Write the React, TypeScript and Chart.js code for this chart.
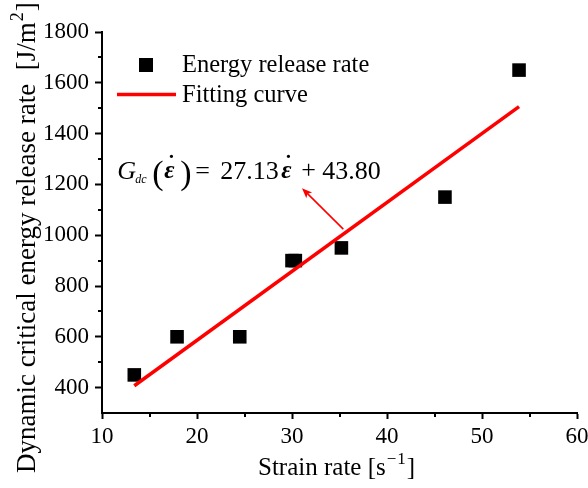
import React, { useEffect, useRef } from "react";
import { Chart, registerables } from "chart.js";

Chart.register(...registerables);

// ---- data ----
const strainRate = [13.4, 17.9, 24.5, 30.0, 30.35, 35.2, 46.1, 53.9];
const energyRelease = [450, 600, 600, 900, 900, 950, 1150, 1650];
const fitStrain = [13.4, 53.9];
const fitEnergy = [407.3, 1506.1];
const xTickValues = [10, 20, 30, 40, 50, 60];
const yTickValues = [400, 600, 800, 1000, 1200, 1400, 1600, 1800];
const xMinorTicks = [15, 25, 35, 45, 55];
const yMinorTicks = [500, 700, 900, 1100, 1300, 1500, 1700];
const legendLabels = ["Energy release rate", "Fitting curve"];
const xTitle = "Strain rate [s";
const yTitle = "Dynamic critical energy release rate  [J/m";
const eqCoef = "27.13";
const eqConst = "43.80";
const eqAnchor = { x: 11.6, y: 1220 };
const arrowFrom = { x: 35.4, y: 1024 };
const arrowTo = { x: 31.05, y: 1185 };

const FONT = "'Liberation Serif', 'Times New Roman', serif";
const RED = "#ff0000";

const overlayPlugin = {
  id: "overlay",
  afterDraw(chart: any) {
    const ctx = chart.ctx as CanvasRenderingContext2D;
    const xs = chart.scales.x;
    const ys = chart.scales.y;
    const area = chart.chartArea;
    ctx.save();
    // minor ticks
    ctx.strokeStyle = "#000";
    ctx.lineWidth = 2;
    ctx.beginPath();
    xMinorTicks.forEach((v) => {
      const px = Math.round(xs.getPixelForValue(v));
      ctx.moveTo(px, area.bottom);
      ctx.lineTo(px, area.bottom + 4);
    });
    yMinorTicks.forEach((v) => {
      const py = Math.round(ys.getPixelForValue(v));
      ctx.moveTo(area.left, py);
      ctx.lineTo(area.left - 4, py);
    });
    ctx.stroke();

    // legend
    const lx = area.left;
    ctx.fillStyle = "#000";
    ctx.fillRect(lx + 37, 58, 14, 14);
    ctx.font = `24.5px ${FONT}`;
    ctx.textBaseline = "alphabetic";
    ctx.textAlign = "left";
    ctx.fillText(legendLabels[0], lx + 80, 72);
    ctx.strokeStyle = RED;
    ctx.lineWidth = 3.5;
    ctx.beginPath();
    ctx.moveTo(lx + 15, 94.5);
    ctx.lineTo(lx + 74, 94.5);
    ctx.stroke();
    ctx.fillStyle = "#000";
    ctx.fillText(legendLabels[1], lx + 80, 102);

    // equation
    const ex = xs.getPixelForValue(eqAnchor.x);
    const eb = ys.getPixelForValue(eqAnchor.y);
    const epsDot = (x0: number) => {
      ctx.textAlign = "left";
      ctx.font = `bold italic 25px ${FONT}`;
      ctx.fillText("ε", x0, eb - 1);
      const w = ctx.measureText("ε").width;
      ctx.textAlign = "center";
      ctx.font = `bold 22px ${FONT}`;
      ctx.fillText("˙", x0 + w / 2 + 2, eb - 9);
      ctx.textAlign = "left";
    };
    ctx.fillStyle = "#000";
    ctx.font = `italic 26px ${FONT}`;
    ctx.fillText("G", ex, eb);
    ctx.font = `italic 12px ${FONT}`;
    ctx.fillText("dc", ex + 18, eb + 4);
    ctx.font = `34px ${FONT}`;
    ctx.fillText("(", ex + 35, eb + 5);
    epsDot(ex + 47);
    ctx.font = `34px ${FONT}`;
    ctx.fillText(")", ex + 63, eb + 5);
    ctx.font = `26px ${FONT}`;
    ctx.fillText("=", ex + 78, eb);
    ctx.fillText(eqCoef, ex + 103, eb);
    epsDot(ex + 164);
    ctx.font = `26px ${FONT}`;
    ctx.fillText("+", ex + 184, eb - 1);
    ctx.fillText(eqConst, ex + 205, eb);

    // arrow
    const ax0 = xs.getPixelForValue(arrowFrom.x);
    const ay0 = ys.getPixelForValue(arrowFrom.y);
    const ax1 = xs.getPixelForValue(arrowTo.x);
    const ay1 = ys.getPixelForValue(arrowTo.y);
    const ang = Math.atan2(ay1 - ay0, ax1 - ax0);
    ctx.strokeStyle = RED;
    ctx.fillStyle = RED;
    ctx.lineWidth = 1.6;
    ctx.beginPath();
    ctx.moveTo(ax0, ay0);
    ctx.lineTo(ax1 - 6 * Math.cos(ang), ay1 - 6 * Math.sin(ang));
    ctx.stroke();
    const hl = 11;
    const hw = 0.38;
    ctx.beginPath();
    ctx.moveTo(ax1, ay1);
    ctx.lineTo(ax1 - hl * Math.cos(ang - hw), ay1 - hl * Math.sin(ang - hw));
    ctx.lineTo(ax1 - hl * 0.7 * Math.cos(ang), ay1 - hl * 0.7 * Math.sin(ang));
    ctx.lineTo(ax1 - hl * Math.cos(ang + hw), ay1 - hl * Math.sin(ang + hw));
    ctx.closePath();
    ctx.fill();

    // x title
    ctx.fillStyle = "#000";
    ctx.font = `25px ${FONT}`;
    const xtx = 258;
    const xtb = 475;
    ctx.fillText(xTitle, xtx, xtb);
    const w1 = ctx.measureText(xTitle).width;
    ctx.font = `17px ${FONT}`;
    ctx.fillText("−", xtx + w1 + 1, xtb - 11);
    const w2 = ctx.measureText("−").width;
    ctx.fillText("1", xtx + w1 + w2 + 2, xtb - 11);
    const w3 = ctx.measureText("1").width;
    ctx.font = `25px ${FONT}`;
    ctx.fillText("]", xtx + w1 + w2 + w3 + 3, xtb);

    // y title
    ctx.save();
    ctx.translate(35, 473);
    ctx.rotate(-Math.PI / 2);
    ctx.font = `27px ${FONT}`;
    ctx.fillText(yTitle, 0, 0);
    const yw1 = ctx.measureText(yTitle).width;
    ctx.font = `18px ${FONT}`;
    ctx.fillText("2", yw1 + 1, -12);
    const yw2 = ctx.measureText("2").width;
    ctx.font = `27px ${FONT}`;
    ctx.fillText("]", yw1 + yw2 + 2, 0);
    ctx.restore();

    ctx.restore();
  },
};

export default function App() {
  const ref = useRef<HTMLCanvasElement | null>(null);
  useEffect(() => {
    if (!ref.current) return;
    const chart = new Chart(ref.current, {
      type: "scatter",
      data: {
        datasets: [
          {
            label: legendLabels[1],
            data: fitStrain.map((x, i) => ({ x, y: fitEnergy[i] })),
            showLine: true,
            borderColor: RED,
            borderWidth: 3.5,
            pointRadius: 0,
            order: 0,
          },
          {
            label: legendLabels[0],
            data: strainRate.map((x, i) => ({ x, y: energyRelease[i] })),
            pointStyle: "rect",
            pointRadius: 9.6,
            backgroundColor: "#000",
            borderWidth: 0,
            showLine: false,
            order: 1,
          },
        ],
      },
      options: {
        responsive: false,
        animation: false,
        events: [],
        layout: { padding: { top: 32, right: 11, left: 0, bottom: 0 } },
        plugins: { legend: { display: false }, tooltip: { enabled: false } },
        scales: {
          x: {
            type: "linear",
            min: 10,
            max: 60,
            afterBuildTicks: (s: any) => {
              s.ticks = xTickValues.map((v) => ({ value: v }));
            },
            afterFit: (s: any) => {
              s.height = 75;
              s.paddingRight = 0;
              s.paddingLeft = 0;
            },
            grid: { drawOnChartArea: false, tickLength: 6, tickWidth: 2, tickColor: "#000" },
            border: { color: "#000", width: 2 },
            ticks: {
              font: { family: FONT, size: 23 },
              color: "#000",
              padding: 4,
              maxRotation: 0,
              callback: (v: any) => String(v),
            },
          },
          y: {
            type: "linear",
            min: 300,
            max: 1800,
            afterBuildTicks: (s: any) => {
              s.ticks = yTickValues.map((v) => ({ value: v }));
            },
            afterFit: (s: any) => {
              s.width = 102;
              s.paddingTop = 0;
              s.paddingBottom = 0;
            },
            grid: { drawOnChartArea: false, tickLength: 7, tickWidth: 2, tickColor: "#000" },
            border: { color: "#000", width: 2 },
            ticks: {
              font: { family: FONT, size: 23 },
              color: "#000",
              padding: 6,
              callback: (v: any) => String(v),
            },
          },
        },
      },
      plugins: [overlayPlugin],
    });
    return () => chart.destroy();
  }, []);
  return (
    <div style={{ position: "fixed", left: 0, top: 0, width: 588, height: 488, background: "#fff" }}>
      <canvas ref={ref} width={588} height={488} />
    </div>
  );
}
